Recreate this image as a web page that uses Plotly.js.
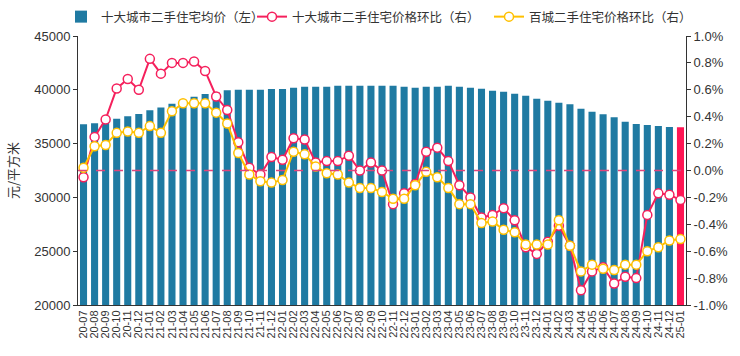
<!DOCTYPE html>
<html><head><meta charset="utf-8">
<script src="https://cdn.plot.ly/plotly-3.0.1.min.js"></script>
<style>html,body{margin:0;padding:0;background:#fff}#c{width:740px;height:356px}</style>
</head><body><div id="c"></div>
<script>
const months = ["20-07","20-08","20-09","20-10","20-11","20-12",
"21-01","21-02","21-03","21-04","21-05","21-06","21-07","21-08","21-09","21-10","21-11","21-12",
"22-01","22-02","22-03","22-04","22-05","22-06","22-07","22-08","22-09","22-10","22-11","22-12",
"23-01","23-02","23-03","23-04","23-05","23-06","23-07","23-08","23-09","23-10","23-11","23-12",
"24-01","24-02","24-03","24-04","24-05","24-06","24-07","24-08","24-09","24-10","24-11","24-12",
"25-01"];
const avgPrice = [36800,36900,37000,37300,37550,37750,38100,38350,38700,39050,39350,39600,39750,39950,40000,40000,40000,40080,40080,40200,40280,40280,40280,40370,40370,40370,40370,40380,40380,40290,40200,40290,40290,40380,40290,40200,40100,39920,39830,39640,39450,39170,38990,38800,38650,38250,37960,37720,37440,37040,36820,36730,36640,36540,36520];
const tenCityMoM = [-0.05,0.25,0.38,0.61,0.68,0.60,0.83,0.72,0.80,0.80,0.81,0.74,0.55,0.45,0.21,0.02,-0.03,0.10,0.08,0.24,0.23,0.06,0.07,0.07,0.11,0.00,0.06,0.00,-0.25,-0.17,-0.10,0.14,0.17,0.07,-0.11,-0.20,-0.35,-0.33,-0.28,-0.37,-0.57,-0.62,-0.53,-0.41,-0.56,-0.89,-0.75,-0.72,-0.84,-0.79,-0.80,-0.33,-0.17,-0.18,-0.22];
const hundredCityMoM = [0.02,0.18,0.19,0.28,0.29,0.28,0.33,0.28,0.44,0.50,0.50,0.50,0.43,0.35,0.13,-0.03,-0.08,-0.09,-0.07,0.14,0.12,0.03,-0.02,-0.03,-0.09,-0.13,-0.13,-0.16,-0.21,-0.21,-0.11,-0.01,-0.05,-0.13,-0.25,-0.25,-0.39,-0.38,-0.44,-0.46,-0.55,-0.55,-0.55,-0.37,-0.56,-0.75,-0.70,-0.73,-0.74,-0.70,-0.70,-0.60,-0.57,-0.52,-0.51];
const leftTicks = [20000,25000,30000,35000,40000,45000];
const rightTicks = [-1.0,-0.8,-0.6,-0.4,-0.2,0,0.2,0.4,0.6,0.8,1.0];

const barColors = avgPrice.map((v,i)=> i===avgPrice.length-1 ? '#ff1654' : '#1f7aa2');
const FONT = 'Liberation Sans, Arial, Noto Sans CJK SC, sans-serif';
const CJK = 'Noto Sans CJK SC, sans-serif';

const data = [
  {type:'bar', x:months, y:avgPrice, name:'十大城市二手住宅均价（左）',
   marker:{color:barColors}, yaxis:'y', legend:'legend'},
  {type:'scatter', mode:'lines+markers', x:months, y:tenCityMoM, name:'十大城市二手住宅价格环比（右）',
   yaxis:'y2', line:{color:'#f5205c', width:2}, legend:'legend2',
   marker:{symbol:'circle', size:9, color:'#ffffff', line:{color:'#f5205c', width:1.5}}},
  {type:'scatter', mode:'lines+markers', x:months, y:hundredCityMoM, name:'百城二手住宅价格环比（右）',
   yaxis:'y2', line:{color:'#ffc000', width:2}, legend:'legend3',
   marker:{symbol:'circle', size:9, color:'#ffffff', line:{color:'#ffc000', width:1.5}}}
];

function leg(px){
  return {orientation:'h', xref:'container', yref:'container', x:px/740, xanchor:'left',
          y:1-17/356, yanchor:'middle', font:{size:12.5, family:CJK, color:'#333'},
          itemwidth:30, bgcolor:'rgba(0,0,0,0)', borderwidth:0};
}

const layout = {
  width:740, height:356,
  margin:{l:78, r:54, t:36, b:51},
  paper_bgcolor:'#fff', plot_bgcolor:'#fff',
  font:{family:FONT, size:12, color:'#333'},
  bargap:0.36,
  showlegend:true,
  legend:leg(61), legend2:leg(252), legend3:leg(489),
  xaxis:{type:'category', range:[-0.5, months.length-0.5], tickmode:'linear', dtick:1,
         tickangle:-90, tickfont:{size:11, color:'#333'},
         showline:true, linecolor:'#333', linewidth:1, ticks:'', showgrid:false,
         automargin:false},
  yaxis:{range:[20000,45000], tickvals:leftTicks, ticktext:leftTicks.map(String),
         showline:true, linecolor:'#333', linewidth:1, ticks:'outside', ticklen:4,
         tickcolor:'#333', showgrid:false, zeroline:false, tickfont:{size:13, color:'#333'},
         title:{text:'元/平方米', font:{size:13, family:CJK, color:'#333'}, standoff:12},
         automargin:false},
  yaxis2:{overlaying:'y', side:'right', range:[-1.0,1.0], tickvals:rightTicks,
          ticktext:rightTicks.map(v=>v.toFixed(1)+'%'),
          showline:true, linecolor:'#333', linewidth:1, ticks:'outside', ticklen:4,
          tickcolor:'#333', showgrid:false, zeroline:false, tickfont:{size:13, color:'#333'},
          automargin:false},
  shapes:[{type:'line', xref:'paper', x0:0, x1:1, yref:'y2', y0:0, y1:0,
           line:{color:'#e0457b', width:1.5, dash:'dash'}, layer:'above'}]
};
Plotly.newPlot('c', data, layout, {displayModeBar:false, staticPlot:true});
</script></body></html>
